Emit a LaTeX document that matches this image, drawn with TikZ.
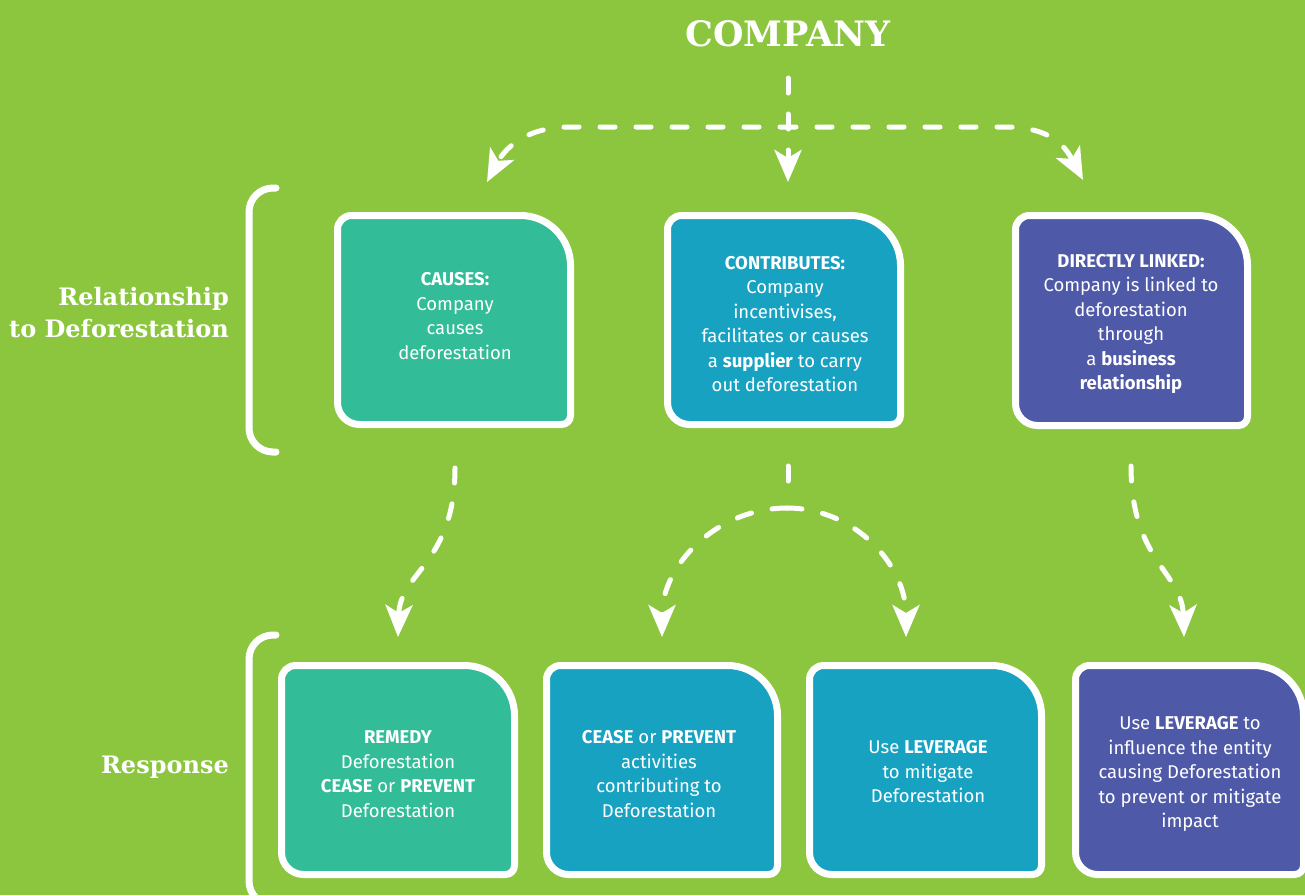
\documentclass[tikz,border=0pt]{standalone}
\usepackage{fontspec}
\setmainfont{Fira Sans}
\newfontfamily\slabfont{DejaVu Serif}
\usetikzlibrary{arrows.meta,calc}
\definecolor{bggreen}{RGB}{140,198,63}
\definecolor{tealbox}{RGB}{50,188,151}
\definecolor{bluebox}{RGB}{24,162,194}
\definecolor{purplebox}{RGB}{78,89,168}
\newcommand{\dbox}[5]{%
 \pgfmathsetmacro\Lx{#1+3.5}\pgfmathsetmacro\Rx{#3-3.5}%
 \pgfmathsetmacro\Ty{#2+3.5}\pgfmathsetmacro\By{#4-3.5}%
 \draw[boxline,fill=#5] (\Lx,\Ty+14) .. controls (\Lx,\Ty+6.3) and (\Lx+6.3,\Ty) .. (\Lx+14,\Ty)
  -- (\Rx-50,\Ty) .. controls (\Rx-22.4,\Ty) and (\Rx,\Ty+22.4) .. (\Rx,\Ty+50)
  -- (\Rx,\By-9) .. controls (\Rx,\By-4) and (\Rx-4,\By) .. (\Rx-9,\By)
  -- (\Lx+22,\By) .. controls (\Lx+9.9,\By) and (\Lx,\By-9.9) .. (\Lx,\By-22) -- cycle;}
\begin{document}
\begin{tikzpicture}[x=1pt,y=-1pt,
  boxline/.style={draw=white,line width=7pt,line join=round},
  boxtxt/.style={text=white,align=center,inner sep=0pt,font=\fontsize{18.5}{24.5}\selectfont},
  lbl/.style={text=white,align=right,anchor=east,inner sep=0pt,font=\slabfont\bfseries\fontsize{24}{32}\selectfont},
  bracketline/.style={draw=white,line width=7pt,line cap=round,rounded corners=24pt},
  dashline/.style={draw=white,line width=5pt,line cap=round,dash pattern=on 15pt off 21pt},
  dasharr/.style={dashline,-{Stealth[length=32pt,width=27pt,inset=8pt]}}]
\useasboundingbox (0,0) rectangle (1305,895);
\fill[bggreen] (0,0) rectangle (1305,895);
\clip (0,0) rectangle (1305,895);

% brackets
\draw[bracketline] (276,188) -- (249,188) -- (249,452) -- (276,452);
\draw[bracketline] (276,635) -- (249,635) -- (249,905) -- (276,905);

% labels
\node[text=white,inner sep=0pt,font=\slabfont\bfseries\fontsize{35}{40}\selectfont] (company) at (788,34) {COMPANY};
\node[lbl] (rel) at (229,313) {Relationship\\to Deforestation};
\node[lbl] (resp) at (229,767) {Response};

% boxes
\dbox{334}{212}{574}{428}{tealbox}
\dbox{664}{212}{904}{428}{bluebox}
\dbox{1012}{212}{1251}{429}{purplebox}
\dbox{278}{662}{518}{878}{tealbox}
\dbox{543}{662}{781}{878}{bluebox}
\dbox{806}{662}{1045}{878}{bluebox}
\dbox{1072}{662}{1307}{878}{purplebox}

\node[boxtxt] (causes) at (455,316) {\textbf{CAUSES:}\\Company\\causes\\deforestation};
\node[boxtxt] (contrib) at (785,324) {\textbf{CONTRIBUTES:}\\Company\\incentivises,\\facilitates or causes\\a \textbf{supplier} to carry\\out deforestation};
\node[boxtxt] (linked) at (1131,324) {\textbf{DIRECTLY LINKED:}\\Company is linked to\\deforestation\\through\\a \textbf{business}\\\textbf{relationship}};
\node[boxtxt] (remedy) at (398,774) {\textbf{REMEDY}\\Deforestation\\\textbf{CEASE} or \textbf{PREVENT}\\Deforestation};
\node[boxtxt] (cease) at (659,774) {\textbf{CEASE} or \textbf{PREVENT}\\activities\\contributing to\\Deforestation};
\node[boxtxt] (lever) at (928,772) {Use \textbf{LEVERAGE}\\to mitigate\\Deforestation};
\node[boxtxt] (influence) at (1190,774) {Use \textbf{LEVERAGE} to\\influence the entity\\causing Deforestation\\to prevent or mitigate\\impact};

% connector points
\coordinate (c0) at (788,78);
\coordinate (cj) at (788,127);
\coordinate (cl) at (487,182);
\coordinate (cm) at (788,182);
\coordinate (cr) at (1083,180);
\coordinate (a0) at (455,468);
\coordinate (a1) at (398,637);
\coordinate (m0) at (788,466);
\coordinate (m1) at (788,490);
\coordinate (mt) at (787,508);
\coordinate (ml) at (662,637);
\coordinate (mr) at (906,637);
\coordinate (b0) at (1131,466);
\coordinate (b1) at (1184,637);

% top connectors
\draw[dasharr] (c0) -- (cm);
\draw[dasharr,dash phase=7pt] (cj) -- ++(-218,0) .. controls +(-48,0) and +(16,-30) .. (cl);
\draw[dasharr,dash phase=7pt] (cj) -- ++(218,0) .. controls +(48,0) and +(-16,-30) .. (cr);

% bottom connectors
\draw[dasharr] (a0) .. controls +(0,95) and +(2,-65) .. (a1);
\draw[dashline] (m0) -- (m1);
\draw[dasharr] (mt) .. controls +(-70,0) and +(0,-72) .. (ml);
\draw[dasharr] (mt) .. controls +(68,0) and +(0,-72) .. (mr);
\draw[dasharr] (b0) .. controls +(0,95) and +(-2,-65) .. (b1);
\end{tikzpicture}
\end{document}
